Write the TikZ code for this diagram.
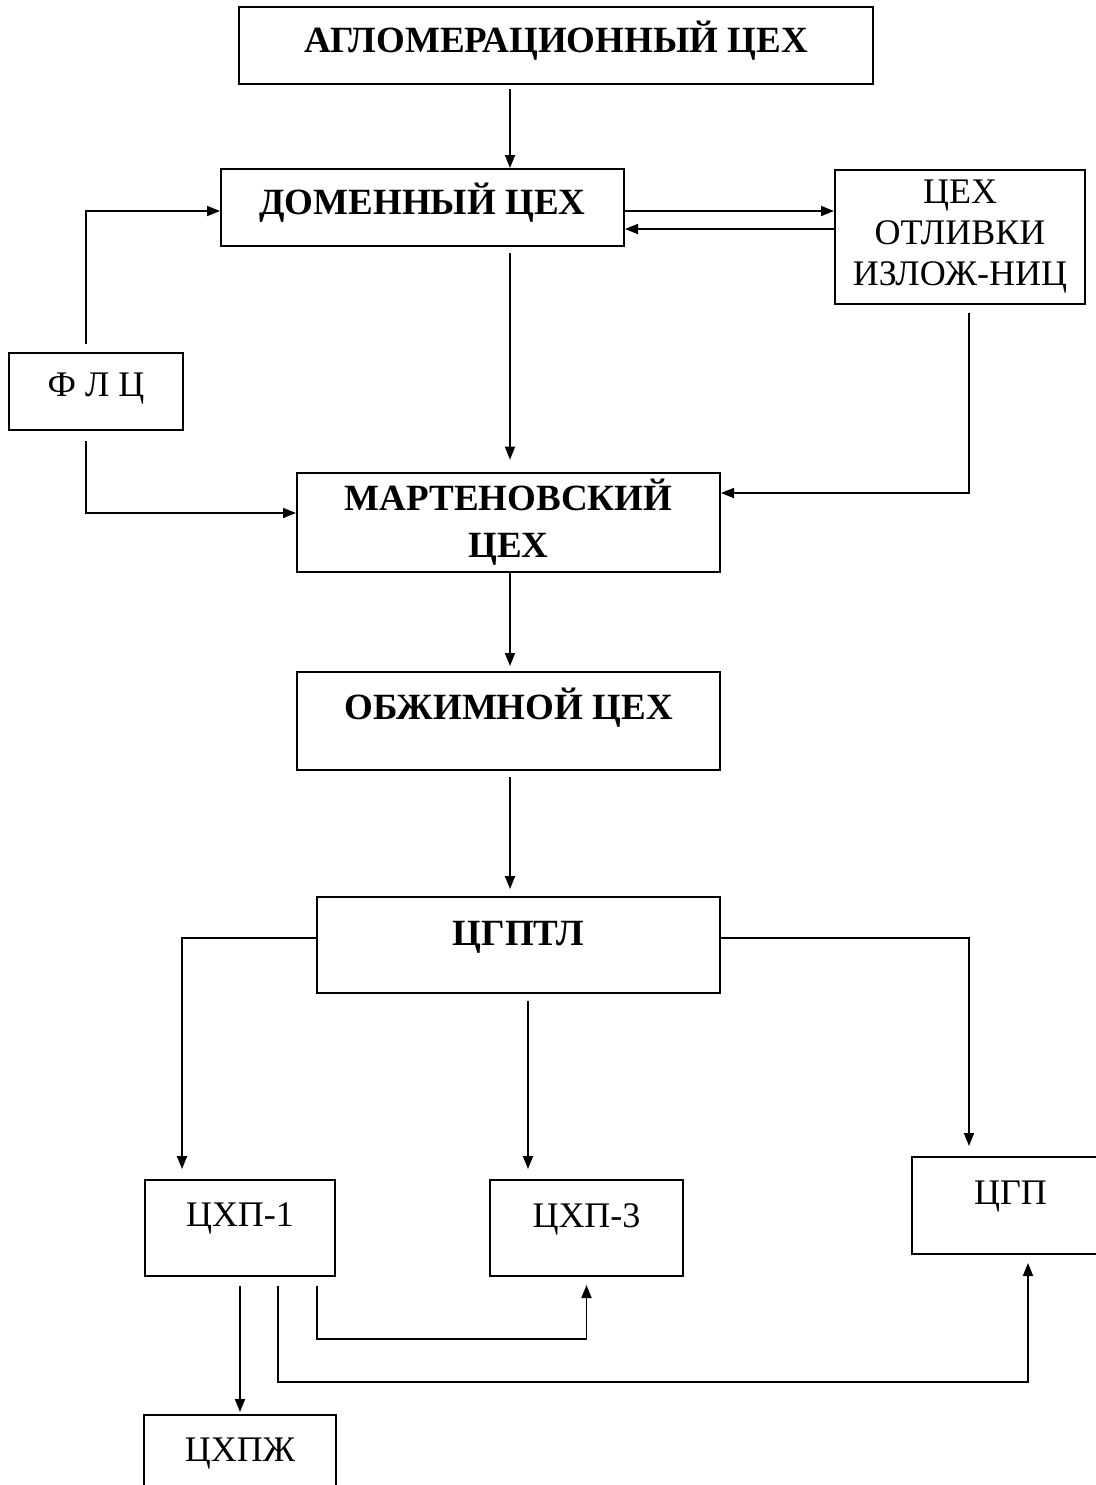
\documentclass[tikz,border=0pt]{standalone}
\usepackage{fontspec}
\setmainfont{Liberation Serif}
\usetikzlibrary{arrows.meta}

\tikzset{
  shop/.style={rectangle, draw=black, line width=1pt, align=center, font=\fontsize{18.5pt}{22.5pt}\selectfont\bfseries},
  shopn/.style={rectangle, draw=black, line width=1pt, align=center, font=\fontsize{18pt}{21.5pt}\selectfont},
  arrow/.style={line width=0.9pt, -{Triangle[length=6.5pt,width=5pt]}}
}

\begin{document}
\begin{tikzpicture}[x=0.5pt, y=-0.5pt]
\useasboundingbox (0,0) rectangle (1096,1485);
\coordinate (spine) at (510,0);

\node (aglo) [shop, minimum width=317pt, minimum height=38.5pt, text height=12.3pt, text depth=5pt] at (556,45.5) {АГЛОМЕРАЦИОННЫЙ ЦЕХ};
\node (dom) [shop, minimum width=201.5pt, minimum height=38.5pt, text height=12.3pt, text depth=5pt] at (422.5,207.5) {ДОМЕННЫЙ ЦЕХ};
\node (otl) [shopn, font=\fontsize{18pt}{20.5pt}\selectfont, minimum width=125pt, minimum height=67pt] at (960,237) {ЦЕХ\\ОТЛИВКИ\\ИЗЛОЖ-НИЦ};
\node (flc) [shopn, minimum width=87pt, minimum height=38.5pt, text height=12pt, text depth=7pt] at (96,391.5) {Ф Л Ц};
\node (mart) [shop, minimum width=211.5pt, minimum height=47.5pt] at (508.5,522.5) {МАРТЕНОВСКИЙ\\[1pt]ЦЕХ};
\node (obzh) [shop, minimum width=211.5pt, minimum height=49pt, text height=12.3pt, text depth=14pt] at (508.5,721) {ОБЖИМНОЙ ЦЕХ};
\node (cgptl) [shop, minimum width=201.5pt, minimum height=48pt, text height=12.3pt, text depth=11.5pt] at (518.5,945) {ЦГПТЛ};
\node (chp1) [shopn, minimum width=95pt, minimum height=48pt, text height=12pt, text depth=14pt] at (240,1228) {ЦХП-1};
\node (chp3) [shopn, minimum width=96.5pt, minimum height=48pt, text height=12pt, text depth=12.5pt] at (586.5,1228) {ЦХП-3};
\node (cgp) [shopn, minimum width=98.5pt, minimum height=48.5pt, text height=12pt, text depth=13pt] at (1010.5,1205.5) {ЦГП};
\node (chpzh) [shopn, minimum width=96pt, minimum height=48pt, text height=12pt, text depth=13.5pt] at (240,1463) {ЦХПЖ};

\draw [arrow, shorten <=2pt] (aglo.south -| spine) -- (dom.north -| spine);
\draw [arrow] (dom.east |- 0,211) -- (otl.west |- 0,211);
\draw [arrow] (otl.west |- 0,229) -- (dom.east |- 0,229);
\draw [arrow, shorten <=4pt] (flc.north -| 86,0) |- (dom.west |- 0,211);
\draw [arrow, shorten <=5pt] (flc.south -| 86,0) |- (mart.west |- 0,513);
\draw [arrow, shorten <=3pt, shorten >=6pt] (dom.south -| spine) -- (mart.north -| spine);
\draw [arrow, shorten <=4pt] (otl.south -| 969,0) |- (mart.east |- 0,493);
\draw [arrow, shorten >=2.5pt] (mart.south -| spine) -- (obzh.north -| spine);
\draw [arrow, shorten <=3pt, shorten >=3.5pt] (obzh.south -| spine) -- (cgptl.north -| spine);
\draw [arrow, shorten >=5pt] (cgptl.west |- 0,938) -| (chp1.north -| 182,0);
\draw [arrow, shorten <=3.5pt, shorten >=5pt] (cgptl.south -| 528,0) -- (chp3.north -| 528,0);
\draw [arrow, shorten >=5pt] (cgptl.east |- 0,938) -| (cgp.north -| 969,0);
\draw [arrow, shorten <=4.5pt, shorten >=1pt] (chp1.south) -- (chpzh.north);
\draw [arrow, shorten <=4.5pt, shorten >=4pt] (chp1.south -| 317,0) -- ++(0,62) -| (chp3.south);
\draw [arrow, shorten <=4.5pt, shorten >=4pt] (chp1.south -| 278,0) -- ++(0,105) -| (cgp.south -| 1028,0);

\end{tikzpicture}
\end{document}
